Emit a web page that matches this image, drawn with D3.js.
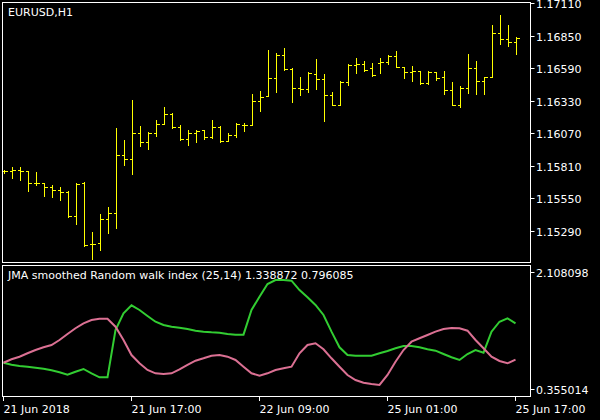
<!DOCTYPE html>
<html><head><meta charset="utf-8">
<script src="https://cdn.jsdelivr.net/npm/d3@7"></script>
<style>body{margin:0;background:#000}svg{display:block}text{font-family:"DejaVu Sans",sans-serif;font-size:11px;fill:#fff}</style>
</head><body><svg id="c" width="600" height="420"></svg>
<script>
const opens=[1.15766,1.15766,1.15774,1.15766,1.15670,1.15670,1.15638,1.15614,1.15598,1.15406,1.15670,1.15190,1.15198,1.15382,1.15430,1.15894,1.15862,1.16070,1.15998,1.16070,1.16142,1.16222,1.16118,1.16022,1.16070,1.16094,1.16038,1.16118,1.16006,1.16054,1.16134,1.16134,1.16326,1.16366,1.16510,1.16694,1.16582,1.16430,1.16422,1.16542,1.16502,1.16374,1.16294,1.16478,1.16614,1.16622,1.16590,1.16630,1.16638,1.16686,1.16598,1.16558,1.16566,1.16470,1.16558,1.16518,1.16414,1.16294,1.16430,1.16590,1.16486,1.16518,1.16870,1.16822,1.16798];
const highs=[1.15774,1.15798,1.15798,1.15766,1.15758,1.15670,1.15654,1.15638,1.15606,1.15670,1.15678,1.15286,1.15422,1.15478,1.16110,1.16014,1.16334,1.16126,1.16078,1.16174,1.16278,1.16230,1.16134,1.16094,1.16094,1.16094,1.16174,1.16126,1.16070,1.16150,1.16150,1.16382,1.16406,1.16734,1.16710,1.16750,1.16590,1.16518,1.16558,1.16662,1.16542,1.16398,1.16486,1.16622,1.16670,1.16646,1.16630,1.16670,1.16694,1.16726,1.16598,1.16606,1.16566,1.16566,1.16558,1.16566,1.16478,1.16446,1.16702,1.16646,1.16518,1.16934,1.17014,1.16934,1.16838];
const lows=[1.15750,1.15710,1.15694,1.15606,1.15654,1.15566,1.15558,1.15534,1.15398,1.15342,1.15174,1.15070,1.15142,1.15278,1.15310,1.15814,1.15742,1.15966,1.15942,1.16046,1.16142,1.16110,1.16014,1.15974,1.15998,1.16022,1.16030,1.15998,1.16006,1.16038,1.16086,1.16134,1.16246,1.16374,1.16398,1.16574,1.16318,1.16374,1.16398,1.16422,1.16166,1.16294,1.16294,1.16454,1.16550,1.16566,1.16526,1.16550,1.16622,1.16598,1.16510,1.16486,1.16462,1.16462,1.16494,1.16382,1.16294,1.16278,1.16390,1.16382,1.16382,1.16518,1.16782,1.16766,1.16702];
const closes=[1.15766,1.15774,1.15766,1.15670,1.15670,1.15638,1.15614,1.15598,1.15406,1.15662,1.15182,1.15190,1.15382,1.15430,1.15894,1.15862,1.16070,1.15998,1.16070,1.16142,1.16222,1.16118,1.16022,1.16070,1.16086,1.16038,1.16118,1.16006,1.16054,1.16142,1.16134,1.16326,1.16358,1.16510,1.16694,1.16582,1.16430,1.16422,1.16550,1.16502,1.16374,1.16294,1.16478,1.16614,1.16622,1.16574,1.16534,1.16638,1.16686,1.16598,1.16558,1.16566,1.16470,1.16558,1.16510,1.16414,1.16294,1.16430,1.16590,1.16486,1.16518,1.16870,1.16822,1.16798,1.16830];
const rwiHigh=[0.749,0.719,0.700,0.689,0.674,0.659,0.635,0.605,0.569,0.614,0.655,0.590,0.530,0.530,1.239,1.489,1.609,1.539,1.449,1.363,1.314,1.288,1.274,1.254,1.229,1.214,1.205,1.199,1.179,1.169,1.169,1.539,1.738,1.928,1.988,1.988,1.978,1.838,1.729,1.614,1.464,1.214,0.980,0.864,0.854,0.854,0.854,0.890,0.924,0.965,0.999,0.999,0.980,0.950,0.929,0.879,0.830,0.790,0.879,0.939,0.899,1.214,1.363,1.414,1.339];
const rwiLow=[0.749,0.800,0.839,0.890,0.939,0.980,1.014,1.089,1.179,1.265,1.339,1.389,1.408,1.408,1.288,1.089,0.864,0.740,0.640,0.590,0.580,0.590,0.650,0.715,0.779,0.815,0.854,0.864,0.839,0.790,0.689,0.590,0.554,0.590,0.640,0.665,0.689,0.890,1.014,1.040,0.950,0.815,0.689,0.565,0.490,0.449,0.430,0.415,0.565,0.764,0.939,1.064,1.115,1.164,1.214,1.254,1.269,1.265,1.229,1.089,0.965,0.839,0.775,0.740,0.796];
const priceTicks=[1.17110,1.16850,1.16590,1.16330,1.16070,1.15810,1.15550,1.15290];
const indTicks=[2.108098,0.355014];
const timeLabels=[[0,"21 Jun 2018"],[16,"21 Jun 17:00"],[32,"22 Jun 09:00"],[48,"25 Jun 01:00"],[64,"25 Jun 17:00"]];

const svg=d3.select("#c");
const x=d3.scaleLinear().domain([0,64]).range([3.5,515.5]);
const y=d3.scaleLinear().domain([1.17110,1.15290]).range([3,231]);
const y2=d3.scaleLinear().domain([2.108098,0.355014]).range([272,389]);
const R=530.5;
svg.append("defs").html('<clipPath id="p1"><rect x="3" y="3" width="527" height="259"/></clipPath><clipPath id="p2"><rect x="3" y="266" width="527" height="130"/></clipPath>');
// panels
svg.append("rect").attr("x",2.5).attr("y",2.5).attr("width",528).attr("height",260).attr("fill","none").attr("stroke","#fff");
svg.append("rect").attr("x",2.5).attr("y",265.5).attr("width",528).attr("height",131).attr("fill","none").attr("stroke","#fff");
// bars
const g=svg.append("g").attr("clip-path","url(#p1)").attr("stroke","#ffff00").attr("shape-rendering","crispEdges");
opens.forEach((o,i)=>{
  const cx=Math.round(x(i))+0.5;
  g.append("line").attr("x1",cx).attr("x2",cx).attr("y1",Math.round(y(highs[i]))).attr("y2",Math.round(y(lows[i]))+1);
  g.append("line").attr("x1",cx-3).attr("x2",cx).attr("y1",Math.round(y(o))+0.5).attr("y2",Math.round(y(o))+0.5);
  g.append("line").attr("x1",cx).attr("x2",cx+3).attr("y1",Math.round(y(closes[i]))+0.5).attr("y2",Math.round(y(closes[i]))+0.5);
});
// price axis
priceTicks.forEach(p=>{
  const yy=Math.round(y(p))+0.5;
  svg.append("line").attr("x1",R).attr("x2",R+4).attr("y1",yy).attr("y2",yy).attr("stroke","#fff");
  svg.append("text").attr("x",536).attr("y",yy+4).text(p.toFixed(5));
});
indTicks.forEach(p=>{
  const yy=Math.round(y2(p))+0.5;
  svg.append("line").attr("x1",R).attr("x2",R+4).attr("y1",yy).attr("y2",yy).attr("stroke","#fff");
  svg.append("text").attr("x",536).attr("y",yy+4).text(p.toFixed(6));
});
// lines
const g2=svg.append("g").attr("clip-path","url(#p2)");
const ln=arr=>d3.line().x((d,i)=>x(i)).y(d=>y2(d))(arr);
g2.append("path").attr("d",ln(rwiHigh)).attr("fill","none").attr("stroke","#32cd32").attr("stroke-width",2);
g2.append("path").attr("d",ln(rwiLow)).attr("fill","none").attr("stroke","#db7093").attr("stroke-width",2);
// time axis
timeLabels.forEach(([i,t])=>{
  const xx=Math.round(x(i))-0.5;
  svg.append("line").attr("x1",xx).attr("x2",xx).attr("y1",396).attr("y2",401).attr("stroke","#fff");
  svg.append("text").attr("x",xx).attr("y",413).text(t);
});
svg.append("text").attr("x",8).attr("y",16).text("EURUSD,H1");
svg.append("text").attr("x",8).attr("y",279).text("JMA smoothed Random walk index (25,14) 1.338872 0.796085");
</script></body></html>
